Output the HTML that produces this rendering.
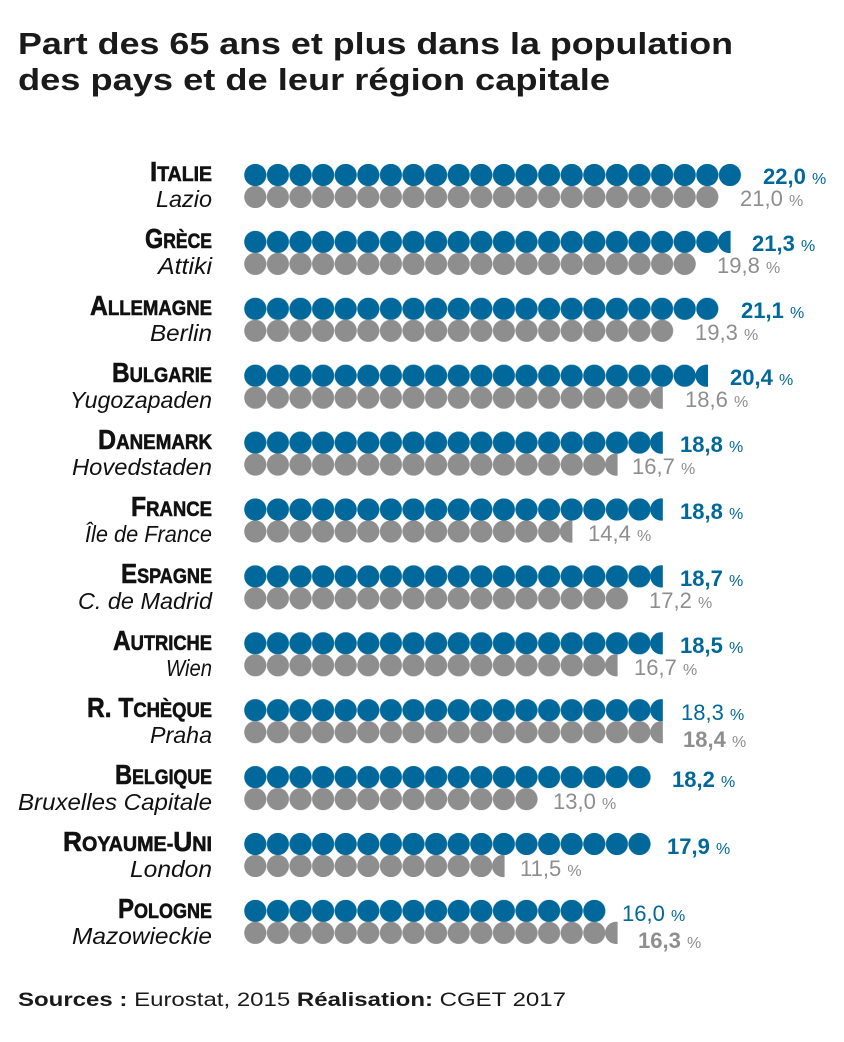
<!DOCTYPE html>
<html><head><meta charset="utf-8"><style>
html,body{margin:0;padding:0;background:#fff}
svg{display:block}
.c{font-family:"Liberation Sans Narrow","Liberation Sans",sans-serif;font-weight:bold;fill:#111;stroke:#111;stroke-width:0.6}
.r{font-family:"Liberation Sans",sans-serif;font-style:italic;font-size:23px;fill:#111}
.vb{font-family:"Liberation Sans",sans-serif;font-size:22px;fill:#00689a}
.vg{font-family:"Liberation Sans",sans-serif;font-size:22px;fill:#8f8e8f}
.b{font-weight:bold}
.p{font-size:16px}
</style></head><body>
<svg width="844" height="1042" viewBox="0 0 844 1042" xmlns="http://www.w3.org/2000/svg">
<defs>
<pattern id="pb" patternUnits="userSpaceOnUse" x="0" y="0" width="22.6" height="22"><circle cx="11.3" cy="11" r="11.1" fill="#00689a"/></pattern>
<pattern id="pg" patternUnits="userSpaceOnUse" x="0" y="0" width="22.6" height="22"><circle cx="11.3" cy="11" r="11.1" fill="#8f8e8f"/></pattern>
</defs>
<text x="18" y="54" font-family="Liberation Sans,sans-serif" font-weight="bold" font-size="31" fill="#1a1a1a" textLength="715" lengthAdjust="spacingAndGlyphs">Part des 65 ans et plus dans la population</text>
<text x="18" y="90" font-family="Liberation Sans,sans-serif" font-weight="bold" font-size="31" fill="#1a1a1a" textLength="592" lengthAdjust="spacingAndGlyphs">des pays et de leur région capitale</text>

<g transform="translate(244,164)"><rect width="497.2" height="22" fill="url(#pb)"/></g>
<g transform="translate(244,186)"><rect width="474.6" height="22" fill="url(#pg)"/></g>
<text class="c" x="212" y="181" text-anchor="end" textLength="62" lengthAdjust="spacingAndGlyphs"><tspan font-size="28">I</tspan><tspan font-size="21">TALIE</tspan></text>
<text class="r" x="212" y="207" text-anchor="end" textLength="56" lengthAdjust="spacingAndGlyphs">Lazio</text>
<text class="vb" x="763" y="184"><tspan class="b">22,0</tspan> <tspan class="p">%</tspan></text>
<text class="vg" x="740" y="206">21,0 <tspan class="p">%</tspan></text>

<g transform="translate(244,230.9)"><rect width="474.6" height="22" fill="url(#pb)"/><path d="M486.6,0 A11.1,11.1 0 1 0 486.6,22 Z" fill="#00689a"/></g>
<g transform="translate(244,252.9)"><rect width="452" height="22" fill="url(#pg)"/></g>
<text class="c" x="212" y="248" text-anchor="end" textLength="67" lengthAdjust="spacingAndGlyphs"><tspan font-size="28">G</tspan><tspan font-size="21">RÈCE</tspan></text>
<text class="r" x="212" y="274" text-anchor="end" textLength="54" lengthAdjust="spacingAndGlyphs">Attiki</text>
<text class="vb" x="752" y="251"><tspan class="b">21,3</tspan> <tspan class="p">%</tspan></text>
<text class="vg" x="717" y="273">19,8 <tspan class="p">%</tspan></text>

<g transform="translate(244,297.8)"><rect width="474.6" height="22" fill="url(#pb)"/></g>
<g transform="translate(244,319.8)"><rect width="429.4" height="22" fill="url(#pg)"/></g>
<text class="c" x="212" y="315" text-anchor="end" textLength="122" lengthAdjust="spacingAndGlyphs"><tspan font-size="28">A</tspan><tspan font-size="21">LLEMAGNE</tspan></text>
<text class="r" x="212" y="341" text-anchor="end" textLength="62" lengthAdjust="spacingAndGlyphs">Berlin</text>
<text class="vb" x="741" y="318"><tspan class="b">21,1</tspan> <tspan class="p">%</tspan></text>
<text class="vg" x="695" y="340">19,3 <tspan class="p">%</tspan></text>

<g transform="translate(244,364.7)"><rect width="452" height="22" fill="url(#pb)"/><path d="M464,0 A11.1,11.1 0 1 0 464,22 Z" fill="#00689a"/></g>
<g transform="translate(244,386.7)"><rect width="406.8" height="22" fill="url(#pg)"/><path d="M418.8,0 A11.1,11.1 0 1 0 418.8,22 Z" fill="#8f8e8f"/></g>
<text class="c" x="212" y="382" text-anchor="end" textLength="100" lengthAdjust="spacingAndGlyphs"><tspan font-size="28">B</tspan><tspan font-size="21">ULGARIE</tspan></text>
<text class="r" x="212" y="408" text-anchor="end" textLength="142" lengthAdjust="spacingAndGlyphs">Yugozapaden</text>
<text class="vb" x="730" y="385"><tspan class="b">20,4</tspan> <tspan class="p">%</tspan></text>
<text class="vg" x="685" y="407">18,6 <tspan class="p">%</tspan></text>

<g transform="translate(244,431.6)"><rect width="406.8" height="22" fill="url(#pb)"/><path d="M418.8,0 A11.1,11.1 0 1 0 418.8,22 Z" fill="#00689a"/></g>
<g transform="translate(244,453.6)"><rect width="361.6" height="22" fill="url(#pg)"/><path d="M373.6,0 A11.1,11.1 0 1 0 373.6,22 Z" fill="#8f8e8f"/></g>
<text class="c" x="212" y="449" text-anchor="end" textLength="114" lengthAdjust="spacingAndGlyphs"><tspan font-size="28">D</tspan><tspan font-size="21">ANEMARK</tspan></text>
<text class="r" x="212" y="475" text-anchor="end" textLength="140" lengthAdjust="spacingAndGlyphs">Hovedstaden</text>
<text class="vb" x="680" y="452"><tspan class="b">18,8</tspan> <tspan class="p">%</tspan></text>
<text class="vg" x="632" y="474">16,7 <tspan class="p">%</tspan></text>

<g transform="translate(244,498.5)"><rect width="406.8" height="22" fill="url(#pb)"/><path d="M418.8,0 A11.1,11.1 0 1 0 418.8,22 Z" fill="#00689a"/></g>
<g transform="translate(244,520.5)"><rect width="316.4" height="22" fill="url(#pg)"/><path d="M328.4,0 A11.1,11.1 0 1 0 328.4,22 Z" fill="#8f8e8f"/></g>
<text class="c" x="212" y="516" text-anchor="end" textLength="81" lengthAdjust="spacingAndGlyphs"><tspan font-size="28">F</tspan><tspan font-size="21">RANCE</tspan></text>
<text class="r" x="212" y="542" text-anchor="end" textLength="127" lengthAdjust="spacingAndGlyphs">Île de France</text>
<text class="vb" x="680" y="519"><tspan class="b">18,8</tspan> <tspan class="p">%</tspan></text>
<text class="vg" x="588" y="541">14,4 <tspan class="p">%</tspan></text>

<g transform="translate(244,565.4)"><rect width="406.8" height="22" fill="url(#pb)"/><path d="M418.8,0 A11.1,11.1 0 1 0 418.8,22 Z" fill="#00689a"/></g>
<g transform="translate(244,587.4)"><rect width="384.2" height="22" fill="url(#pg)"/></g>
<text class="c" x="212" y="583" text-anchor="end" textLength="91" lengthAdjust="spacingAndGlyphs"><tspan font-size="28">E</tspan><tspan font-size="21">SPAGNE</tspan></text>
<text class="r" x="212" y="609" text-anchor="end" textLength="134" lengthAdjust="spacingAndGlyphs">C. de Madrid</text>
<text class="vb" x="680" y="586"><tspan class="b">18,7</tspan> <tspan class="p">%</tspan></text>
<text class="vg" x="649" y="608">17,2 <tspan class="p">%</tspan></text>

<g transform="translate(244,632.3)"><rect width="406.8" height="22" fill="url(#pb)"/><path d="M418.8,0 A11.1,11.1 0 1 0 418.8,22 Z" fill="#00689a"/></g>
<g transform="translate(244,654.3)"><rect width="361.6" height="22" fill="url(#pg)"/><path d="M373.6,0 A11.1,11.1 0 1 0 373.6,22 Z" fill="#8f8e8f"/></g>
<text class="c" x="212" y="650" text-anchor="end" textLength="99" lengthAdjust="spacingAndGlyphs"><tspan font-size="28">A</tspan><tspan font-size="21">UTRICHE</tspan></text>
<text class="r" x="212" y="676" text-anchor="end" textLength="46" lengthAdjust="spacingAndGlyphs">Wien</text>
<text class="vb" x="680" y="653"><tspan class="b">18,5</tspan> <tspan class="p">%</tspan></text>
<text class="vg" x="634" y="675">16,7 <tspan class="p">%</tspan></text>

<g transform="translate(244,699.2)"><rect width="406.8" height="22" fill="url(#pb)"/><path d="M418.8,0 A11.1,11.1 0 1 0 418.8,22 Z" fill="#00689a"/></g>
<g transform="translate(244,721.2)"><rect width="406.8" height="22" fill="url(#pg)"/><path d="M418.8,0 A11.1,11.1 0 1 0 418.8,22 Z" fill="#8f8e8f"/></g>
<text class="c" x="212" y="717" text-anchor="end" textLength="125" lengthAdjust="spacingAndGlyphs"><tspan font-size="28">R. T</tspan><tspan font-size="21">CHÈQUE</tspan></text>
<text class="r" x="212" y="743" text-anchor="end" textLength="62" lengthAdjust="spacingAndGlyphs">Praha</text>
<text class="vb" x="681" y="720">18,3 <tspan class="p">%</tspan></text>
<text class="vg" x="683" y="747"><tspan class="b">18,4</tspan> <tspan class="p">%</tspan></text>

<g transform="translate(244,766.1)"><rect width="406.8" height="22" fill="url(#pb)"/></g>
<g transform="translate(244,788.1)"><rect width="293.8" height="22" fill="url(#pg)"/></g>
<text class="c" x="212" y="784" text-anchor="end" textLength="97" lengthAdjust="spacingAndGlyphs"><tspan font-size="28">B</tspan><tspan font-size="21">ELGIQUE</tspan></text>
<text class="r" x="212" y="810" text-anchor="end" textLength="194" lengthAdjust="spacingAndGlyphs">Bruxelles Capitale</text>
<text class="vb" x="672" y="787"><tspan class="b">18,2</tspan> <tspan class="p">%</tspan></text>
<text class="vg" x="553" y="809">13,0 <tspan class="p">%</tspan></text>

<g transform="translate(244,833)"><rect width="406.8" height="22" fill="url(#pb)"/></g>
<g transform="translate(244,855)"><rect width="248.6" height="22" fill="url(#pg)"/><path d="M260.6,0 A11.1,11.1 0 1 0 260.6,22 Z" fill="#8f8e8f"/></g>
<text class="c" x="212" y="851" text-anchor="end" textLength="149" lengthAdjust="spacingAndGlyphs"><tspan font-size="28">R</tspan><tspan font-size="21">OYAUME-</tspan><tspan font-size="28">U</tspan><tspan font-size="21">NI</tspan></text>
<text class="r" x="212" y="877" text-anchor="end" textLength="82" lengthAdjust="spacingAndGlyphs">London</text>
<text class="vb" x="667" y="854"><tspan class="b">17,9</tspan> <tspan class="p">%</tspan></text>
<text class="vg" x="520" y="876">11,5 <tspan class="p">%</tspan></text>

<g transform="translate(244,899.9)"><rect width="361.6" height="22" fill="url(#pb)"/></g>
<g transform="translate(244,921.9)"><rect width="361.6" height="22" fill="url(#pg)"/><path d="M373.6,0 A11.1,11.1 0 1 0 373.6,22 Z" fill="#8f8e8f"/></g>
<text class="c" x="212" y="918" text-anchor="end" textLength="94" lengthAdjust="spacingAndGlyphs"><tspan font-size="28">P</tspan><tspan font-size="21">OLOGNE</tspan></text>
<text class="r" x="212" y="944" text-anchor="end" textLength="140" lengthAdjust="spacingAndGlyphs">Mazowieckie</text>
<text class="vb" x="622" y="921">16,0 <tspan class="p">%</tspan></text>
<text class="vg" x="638" y="948"><tspan class="b">16,3</tspan> <tspan class="p">%</tspan></text>

<text x="18" y="1006" font-family="Liberation Sans,sans-serif" font-size="19" fill="#1a1a1a" textLength="548" lengthAdjust="spacingAndGlyphs"><tspan font-weight="bold">Sources :</tspan> Eurostat, 2015 <tspan font-weight="bold">Réalisation:</tspan> CGET 2017</text>
</svg>
</body></html>
